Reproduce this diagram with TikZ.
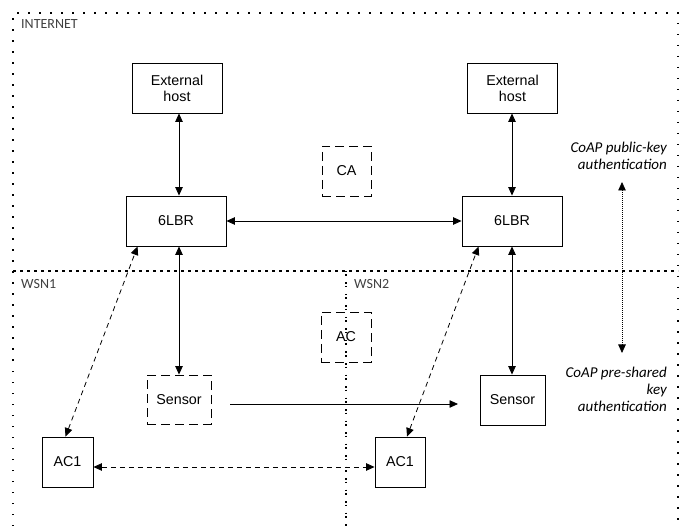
\documentclass[tikz,border=0pt]{standalone}
\usepackage{fontspec}
\setmainfont{Liberation Sans}
\newfontfamily\labelfont{Carlito}
\usetikzlibrary{arrows.meta,calc}

\begin{document}
\begin{tikzpicture}[x=1pt,y=-1pt,
  box/.style={draw, line width=0.9pt, align=center, inner sep=0pt,
    font=\fontsize{14.3}{16}\selectfont},
  dbox/.style={box, dash pattern=on 9pt off 5pt},
  tip/.style={-{Triangle[length=8.5pt,width=7.5pt]}},
  twotip/.style={{Triangle[length=8.5pt,width=7.5pt]}-{Triangle[length=8.5pt,width=7.5pt]}},
  link/.style={line width=0.8pt},
  dlink/.style={link, dash pattern=on 5pt off 4pt},
  region/.style={line width=1.3pt, dash pattern=on 1.5pt off 9.5pt, line cap=butt},
  split/.style={line width=1.3pt, dash pattern=on 3pt off 4pt},
  vsplit/.style={line width=1.3pt, dash pattern=on 1.5pt off 2pt on 1.5pt off 6.5pt},
  zone/.style={font=\labelfont\fontsize{14}{16}\selectfont, text=black!75, inner sep=0pt},
  note/.style={font=\labelfont\itshape\fontsize{15}{17}\selectfont, align=right, inner sep=0pt}
]
\useasboundingbox (0,0) rectangle (685,526);

% region borders
\draw[region] (13,526) -- (13,13) -- (678,13) -- (678,526);
\draw[split] (13,271) -- (678,271);
\draw[vsplit] (346,271) -- (346,526);

\node[zone, anchor=west] (inet) at (21,24) {INTERNET};
\node[zone, anchor=west] (wsn1) at (21,284) {WSN1};
\node[zone, anchor=west] (wsn2) at (354,284) {WSN2};

% boxes
\node[box, minimum width=90pt, minimum height=50pt] (eh1) at (177,88) {External\\host};
\node[box, minimum width=90pt, minimum height=50pt] (eh2) at (512.5,88) {External\\host};
\node[dbox, minimum width=49pt, minimum height=50pt] (ca) at (346.5,171) {CA};
\node[box, minimum width=100pt, minimum height=50pt] (lbr1) at (176,221) {6LBR};
\node[box, minimum width=100pt, minimum height=50pt] (lbr2) at (512,221) {6LBR};
\node[dbox, minimum width=50pt, minimum height=50pt] (ac) at (346,337) {AC};
\node[dbox, minimum width=64pt, minimum height=49pt] (sen1) at (179,399.5) {Sensor};
\node[box, minimum width=65pt, minimum height=50pt] (sen2) at (512.5,400) {Sensor};
\node[box, minimum width=51pt, minimum height=50pt] (ac1a) at (67.5,462) {AC1};
\node[box, minimum width=50pt, minimum height=50pt] (ac1b) at (400,462) {AC1};

% links
\draw[link, twotip] (eh1.south -| sen1.north) -- (lbr1.north -| sen1.north);
\draw[link, twotip] (eh2.south -| lbr2.north) -- (lbr2.north);
\draw[link, twotip] (lbr1.east) -- (lbr2.west);
\draw[link, twotip] (lbr1.south -| sen1.north) -- (sen1.north);
\draw[link, twotip] (lbr2.south) -- (sen2.north -| lbr2.south);

\draw[dlink, twotip] ([xshift=-2pt]ac1a.north) -- ([xshift=12pt]lbr1.south west);
\draw[dlink, twotip] ([xshift=7pt]ac1b.north) -- ([xshift=17pt]lbr2.south west);
\draw[dlink, twotip] ([yshift=-5pt]ac1a.east) -- ([yshift=-5pt]ac1b.west);

\coordinate (sa) at (230,404);
\coordinate (sb) at (458,404);
\draw[link, tip] (sa) -- (sb);

% authentication scope arrow
\coordinate (pk) at (622,182);
\coordinate (psk) at (622,353);
\draw[line width=0.8pt, dash pattern=on 1pt off 1pt, twotip] (pk) -- (psk);
\node[note, anchor=east] (pknote) at (667,156) {CoAP public-key\\authentication};
\node[note, anchor=east] (psknote) at (667,389) {CoAP pre-shared\\key\\authentication};
\end{tikzpicture}
\end{document}
